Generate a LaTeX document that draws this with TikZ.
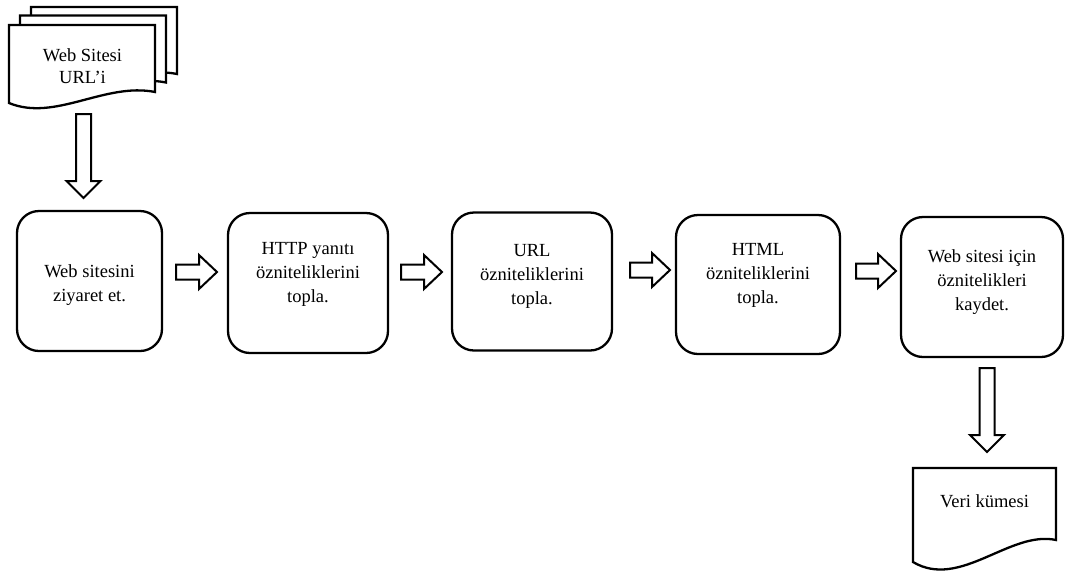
\documentclass[tikz,border=0pt]{standalone}
\usepackage{fontspec}
\setmainfont{Liberation Serif}
\usetikzlibrary{calc}
\tikzset{
  txtfont/.style={font=\fontsize{18.5}{24}\selectfont},
  box/.style={draw, line width=2.3pt, rounded corners=22pt, align=center, txtfont, inner sep=0pt},
  lift/.style={text height=#1, text depth=0pt},
  docline/.style={draw, line width=2.3pt, fill=white, line join=miter},
  hblock/.style={draw, line width=2pt, line join=miter,
    to path={let \p1=(\tikztostart), \p2=(\tikztotarget) in
      (\x1,\y1+7.5pt) -- (\x2-18pt,\y1+7.5pt) -- (\x2-18pt,\y1+17pt) -- (\x2,\y1)
      -- (\x2-18pt,\y1-17pt) -- (\x2-18pt,\y1-7.5pt) -- (\x1,\y1-7.5pt) -- cycle}},
  vblock/.style={draw, line width=2pt, line join=miter,
    to path={let \p1=(\tikztostart), \p2=(\tikztotarget) in
      (\x1-7.5pt,\y1) -- (\x1-7.5pt,\y2+17pt) -- (\x1-17pt,\y2+17pt) -- (\x1,\y2)
      -- (\x1+17pt,\y2+17pt) -- (\x1+7.5pt,\y2+17pt) -- (\x1+7.5pt,\y1) -- cycle}}
}
\begin{document}
\begin{tikzpicture}[x=1pt, y=-1pt]
\useasboundingbox (0,0) rectangle (1065,574);
% stacked pages (input document)
\begin{scope}[shift={(22,-18)}]
  \draw[docline] (9,25) -- (155,25) -- (155,92) .. controls (105,82) and (55,122) .. (9,103) -- cycle;
\end{scope}
\begin{scope}[shift={(11,-9.5)}]
  \draw[docline] (9,25) -- (155,25) -- (155,92) .. controls (105,82) and (55,122) .. (9,103) -- cycle;
\end{scope}
\draw[docline] (9,25) -- (155,25) -- (155,92) .. controls (105,82) and (55,122) .. (9,103) -- cycle;
\node[align=center, font=\fontsize{18.5}{22}\selectfont, inner sep=0pt, lift=22pt] (urls) at (82.5,72) {Web Sitesi\\URL’i};

% process boxes
\node[box, minimum width=145pt, minimum height=140pt, lift=40pt] (b1) at (89.5,281) {Web sitesini\\ziyaret et.};
\node[box, minimum width=160pt, minimum height=140pt, lift=38pt] (b2) at (308,283) {HTTP yanıtı\\özniteliklerini\\topla.};
\node[box, minimum width=160pt, minimum height=138pt, lift=46pt] (b3) at (532,281.5) {URL\\özniteliklerini\\topla.};
\node[box, minimum width=164pt, minimum height=139pt, lift=37pt] (b4) at (758,284.5) {HTML\\özniteliklerini\\topla.};
\node[box, minimum width=162pt, minimum height=140pt, lift=46pt] (b5) at (982,287) {Web sitesi için\\öznitelikleri\\kaydet.};

% output document
\draw[docline] (913,468) -- (1056,468) -- (1056,540) .. controls (1010,530) and (960,590) .. (913,562) -- cycle;
\node[txtfont, anchor=base, inner sep=0pt] (data) at (984.5,507) {Veri kümesi};

% block arrows
\coordinate (a0s) at (83.5,114);  \coordinate (a0e) at (83.5,198);
\coordinate (a1s) at (176,272);   \coordinate (a1e) at (217,272);
\coordinate (a2s) at (401,272);   \coordinate (a2e) at (442,272);
\coordinate (a3s) at (630,270);   \coordinate (a3e) at (670,270);
\coordinate (a4s) at (856,271);   \coordinate (a4e) at (896,271);
\coordinate (a5s) at (987,368);   \coordinate (a5e) at (987,452);
\draw[vblock] (a0s) to (a0e);
\draw[hblock] (a1s) to (a1e);
\draw[hblock] (a2s) to (a2e);
\draw[hblock] (a3s) to (a3e);
\draw[hblock] (a4s) to (a4e);
\draw[vblock] (a5s) to (a5e);
\end{tikzpicture}
\end{document}
